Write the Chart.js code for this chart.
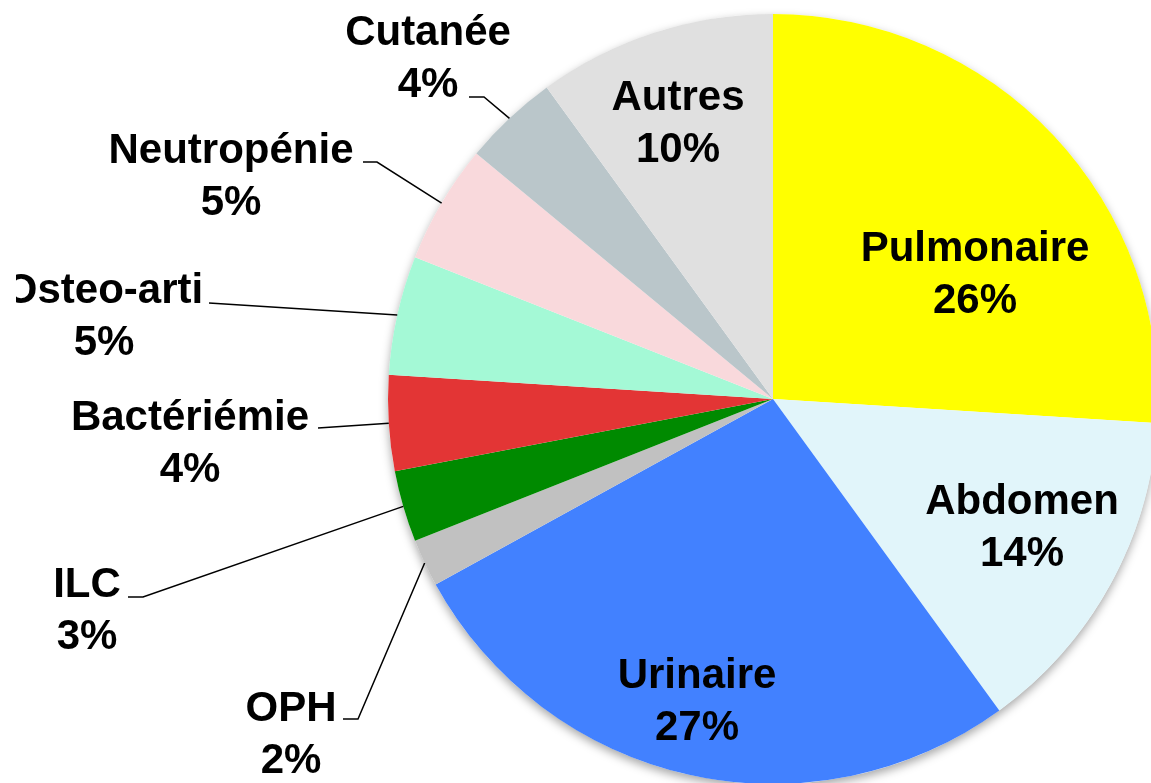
<!DOCTYPE html>
<html>
<head>
<meta charset="utf-8">
<script src="https://cdn.jsdelivr.net/npm/chart.js@4/dist/chart.umd.min.js"></script>
<style>
  html, body { margin: 0; padding: 0; background: #ffffff; overflow: hidden; }
  #wrap { position: relative; width: 1151px; height: 783px; }
</style>
</head>
<body>
<div id="wrap"><canvas id="c" width="1151" height="783"></canvas></div>
<script>
// ---- data ----
const categories = ['Pulmonaire', 'Abdomen', 'Urinaire', 'OPH', 'ILC', 'Bactériémie', 'Osteo-arti', 'Neutropénie', 'Cutanée', 'Autres'];
const values = [26, 14, 27, 2, 3, 4, 5, 5, 4, 10];
const percentLabels = ['26%', '14%', '27%', '2%', '3%', '4%', '5%', '5%', '4%', '10%'];

// ---- styles ----
const sliceColors = ['#ffff00', '#e1f5fa', '#4281ff', '#c1c1c1', '#008a00', '#e33535', '#a4f9d6', '#f9d9dc', '#bac6ca', '#e0e0e0'];

// ---- label layout (text centre x, first-line baseline y, leader line end / elbow) ----
const labelLayout = [
  { x: 975,  y: 261 },
  { x: 1022, y: 514 },
  { x: 697,  y: 688 },
  { x: 291,  y: 721, end: [343, 719], elbow: [358, 719] },
  { x: 87,   y: 597, end: [128, 597], elbow: [143, 597] },
  { x: 190,  y: 430, end: [318, 428] },
  { x: 104,  y: 303, end: [209, 303] },
  { x: 231,  y: 163, end: [363, 162], elbow: [377, 162] },
  { x: 428,  y: 45,  end: [469, 97],  elbow: [484, 97] },
  { x: 678,  y: 110 }
];
const lineGap = 52;

const shadowPlugin = {
  id: 'pieShadow',
  beforeDatasetsDraw(chart) {
    const arc = chart.getDatasetMeta(0).data[0];
    if (!arc) return;
    const ctx = chart.ctx;
    ctx.save();
    ctx.shadowColor = 'rgba(0,0,0,0.35)';
    ctx.shadowBlur = 10;
    ctx.shadowOffsetY = 4;
    ctx.fillStyle = '#ffffff';
    ctx.beginPath();
    ctx.arc(arc.x, arc.y, arc.outerRadius, 0, Math.PI * 2);
    ctx.fill();
    ctx.restore();
  }
};

const labelPlugin = {
  id: 'pieLabels',
  afterDatasetsDraw(chart) {
    const ctx = chart.ctx;
    const meta = chart.getDatasetMeta(0);
    ctx.save();
    ctx.beginPath();
    ctx.rect(16, 0, chart.width, chart.height);
    ctx.clip();
    meta.data.forEach((arc, i) => {
      const L = labelLayout[i];
      // leader line
      if (L.end) {
        const mid = (arc.startAngle + arc.endAngle) / 2;
        const sx = arc.x + Math.cos(mid) * arc.outerRadius;
        const sy = arc.y + Math.sin(mid) * arc.outerRadius;
        ctx.beginPath();
        ctx.strokeStyle = '#000000';
        ctx.lineWidth = 1.5;
        ctx.moveTo(sx, sy);
        if (L.elbow) ctx.lineTo(L.elbow[0], L.elbow[1]);
        ctx.lineTo(L.end[0], L.end[1]);
        ctx.stroke();
      }
      ctx.fillStyle = '#000000';
      ctx.font = 'bold 42px "Liberation Sans", Arial, sans-serif';
      ctx.textAlign = 'center';
      ctx.textBaseline = 'alphabetic';
      ctx.fillText(categories[i], L.x, L.y);
      ctx.fillText(percentLabels[i], L.x, L.y + lineGap);
    });
    ctx.restore();
  }
};

new Chart(document.getElementById('c'), {
  type: 'pie',
  data: {
    labels: categories,
    datasets: [{
      data: values,
      backgroundColor: sliceColors,
      borderWidth: 0
    }]
  },
  options: {
    responsive: false,
    animation: false,
    radius: 385,
    layout: { padding: { left: 395, top: 15, right: 0, bottom: 0 } },
    plugins: {
      legend: { display: false },
      tooltip: { enabled: false },
      title: { display: false }
    }
  },
  plugins: [shadowPlugin, labelPlugin]
});
</script>
</body>
</html>
